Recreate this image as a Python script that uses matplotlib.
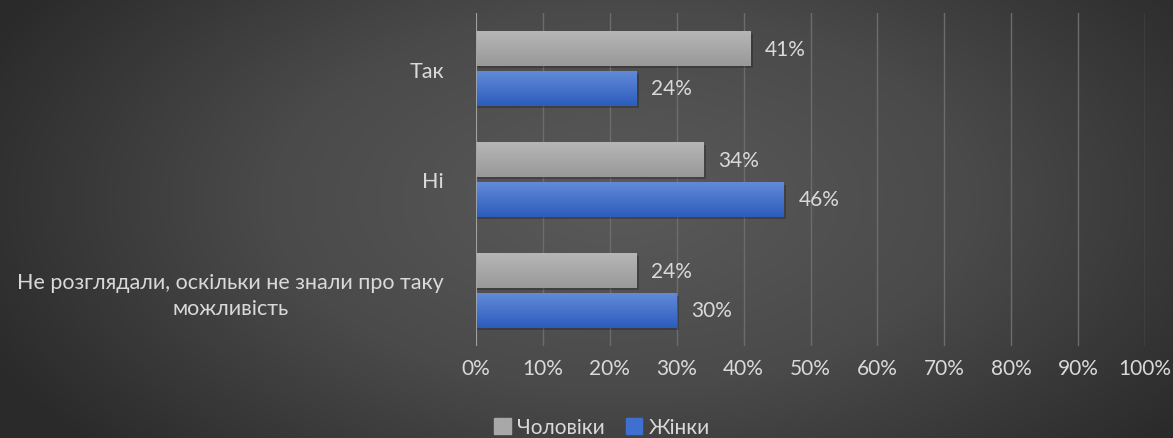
import numpy as np
import matplotlib.pyplot as plt
from matplotlib.colors import LinearSegmentedColormap
from matplotlib.patches import Patch

categories = ["Не розглядали, оскільки не знали про таку\nможливість", "Ні", "Так"]
men = [24, 34, 41]
women = [30, 46, 24]
series_names = ["Чоловіки", "Жінки"]
xticks = list(range(0, 101, 10))

plt.rcParams['font.family'] = ['Lato', 'Open Sans', 'DejaVu Sans']
txt = '#d9d9d9'
fs = 15

fig = plt.figure(figsize=(11.73, 4.39), dpi=100)

# radial background
bg = fig.add_axes([0, 0, 1, 1], zorder=-10)
yy, xx = np.mgrid[0:439, 0:1173]
r = np.sqrt(((xx - 620) / 700.0) ** 2 + ((yy - 200) / 380.0) ** 2)
r = np.clip(r, 0, 1)
bgmap = LinearSegmentedColormap.from_list('bg', ['#5a5a5a', '#4a4a4a', '#2a2a2a'])
bg.imshow(r, cmap=bgmap, vmin=0, vmax=1, aspect='auto', extent=[0, 1, 0, 1])
bg.axis('off')

ax = fig.add_axes([476 / 1173, 1 - 347 / 439, 669 / 1173, 333 / 439])
ax.set_facecolor('none')
y = np.arange(len(categories))
h = 0.307
off = 0.18

grey_map = LinearSegmentedColormap.from_list('g', ['#b6b6b6', '#999999'])
blue_map = LinearSegmentedColormap.from_list('b', ['#628ad8', '#2c5cbd'])


def grad_bars(pos, vals, cmap):
    bars = ax.barh(pos, vals, height=h, color='none', zorder=3)
    for b in bars:
        x0, y0, w, hh = b.get_x(), b.get_y(), b.get_width(), b.get_height()
        # soft shadow
        ax.add_patch(plt.Rectangle((x0, y0 - 0.025), w + 0.35, hh, color='black',
                                   alpha=0.22, lw=0, zorder=2))
        grad = np.linspace(0, 1, 50).reshape(-1, 1)
        ax.imshow(grad, cmap=cmap, aspect='auto', extent=[x0, x0 + w, y0, y0 + hh],
                  origin='upper', zorder=3)
    return bars


bm = grad_bars(y + off, men, grey_map)
bw = grad_bars(y - off, women, blue_map)

for b in list(bm) + list(bw):
    ax.text(b.get_width() + 2.2, b.get_y() + b.get_height() / 2, f"{int(b.get_width())}%",
            va='center', ha='left', color=txt, fontsize=fs)

ax.set_xlim(0, 100)
ax.set_ylim(-0.5, 2.5)
ax.set_xticks(xticks)
ax.set_xticklabels([f"{t}%" for t in xticks], color=txt, fontsize=fs)
ax.set_yticks(y)
ax.set_yticklabels(categories, color=txt, fontsize=15.5, multialignment='center',
                   linespacing=1.35)
ax.tick_params(axis='y', length=0, pad=23)
ax.tick_params(axis='x', length=0, pad=9)
ax.grid(axis='x', color='#6c6c6c', lw=1, zorder=0)
ax.axvline(0, color='#a6a6a6', lw=1.3, zorder=4)
for s in ax.spines.values():
    s.set_visible(False)

handles = [Patch(color='#a8a8a8'), Patch(color='#3f6fcf')]
fig.legend(handles, series_names, loc='center', bbox_to_anchor=(602 / 1173, 0.025), ncol=2,
           frameon=False, fontsize=fs, labelcolor=txt, handlelength=0.8, handleheight=0.8,
           handletextpad=0.3, columnspacing=1.0, borderpad=0)

fig.savefig('out.png', dpi=100)
